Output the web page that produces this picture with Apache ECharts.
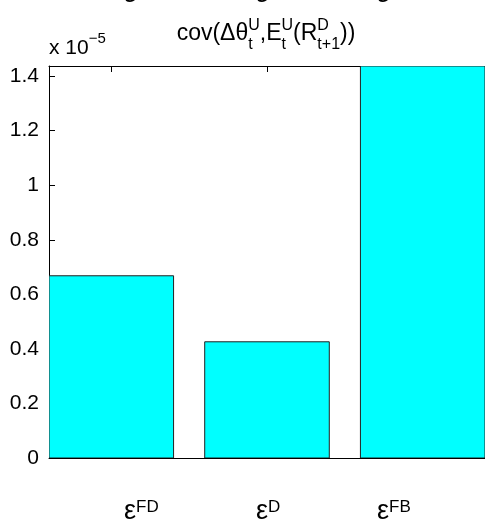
<!DOCTYPE html>
<html>
<head>
<meta charset="utf-8">
<script src="https://cdn.jsdelivr.net/npm/echarts@6/dist/echarts.min.js"></script>
<style>
  html, body { margin: 0; padding: 0; background: #fff; }
  #chart { width: 485px; height: 523px; }
</style>
</head>
<body>
<div id="chart"></div>
<script>
// Bar positions (x) and covariance values, in units of 1e-5
const positions = [1, 2, 3];
const categories = ['FD', 'D', 'FB'];
const values = [0.668, 0.426, 1.437];
const yTicks = [0, 0.2, 0.4, 0.6, 0.8, 1.0, 1.2, 1.4];
const yMax = 1.437;
const xMin = 0.6, xMax = 3.4;
const barHalfWidth = 0.4;

const FONT = '"Liberation Sans", Arial, Helvetica, sans-serif';
const BLACK = '#000';
// distance from the top of a text box to its alphabetic baseline, in em
const BASELINE_EM = 0.84;

// Text width helper, so pieces of math text can be placed next to each other
const measureCtx = document.createElement('canvas').getContext('2d');
function textWidth(str, size) {
  measureCtx.font = size + 'px ' + FONT;
  return measureCtx.measureText(str).width;
}

function textAt(str, x, baseline, size) {
  return { type: 'text', x: x, y: baseline - BASELINE_EM * size, silent: true,
    style: { text: str, font: size + 'px ' + FONT, fill: BLACK, verticalAlign: 'top' } };
}

// Lays out math-like text: plain runs plus stacked superscript/subscript pairs
function mathText(pieces, x, baseline, opts) {
  const main = opts.main, small = opts.small;
  const out = [];
  const widths = pieces.map(p => p.t !== undefined
    ? textWidth(p.t, main)
    : Math.max(p.sup ? textWidth(p.sup, small) : 0, p.sub ? textWidth(p.sub, small) : 0));
  const total = widths.reduce((a, b) => a + b, 0);
  let cx = opts.align === 'center' ? x - total / 2 : x;
  pieces.forEach((p, i) => {
    if (p.t !== undefined) {
      out.push(textAt(p.t, cx, baseline, main));
    } else {
      if (p.sup) out.push(textAt(p.sup, cx, baseline - opts.supRise, small));
      if (p.sub) out.push(textAt(p.sub, cx, baseline + opts.subDrop, small));
    }
    cx += widths[i];
  });
  return out;
}

const chart = echarts.init(document.getElementById('chart'), null, { renderer: 'canvas' });

const grid = { left: 49, right: -1, top: 66, bottom: 65 };

// Category labels under the bars, and the tail of the same labels from the panel above
const labelX = [124, 256, 377];
const labelGraphics = [];
categories.forEach((c, i) => {
  const opts = { main: 27, small: 17, supRise: 8, subDrop: 0 };
  labelGraphics.push(...mathText([{ t: 'ε' }, { sup: c }], labelX[i], 521, opts));
  labelGraphics.push(...mathText([{ t: 'ε' }, { sup: c }], labelX[i], 4, opts));
});

const titleGraphics = mathText([
  { t: 'cov(Δθ' }, { sup: 'U', sub: 't' },
  { t: ',E' }, { sup: 'U', sub: 't' },
  { t: '(R' }, { sup: 'D', sub: 't+1' },
  { t: '))' }
], 266, 41, { main: 23, small: 16, supRise: 10, subDrop: 9, align: 'center' });

const exponentGraphics = mathText([{ t: 'x 10' }, { sup: '−5' }], 49, 55,
  { main: 21, small: 15, supRise: 11, subDrop: 0 });

chart.setOption({
  animation: false,
  backgroundColor: '#fff',
  grid: grid,
  xAxis: [{
    type: 'value', position: 'bottom', min: xMin, max: xMax,
    axisLine: { show: true, onZero: false, lineStyle: { color: BLACK, width: 1 } },
    axisTick: { show: true, inside: true, length: 6, customValues: positions, lineStyle: { color: BLACK } },
    axisLabel: { show: false },
    splitLine: { show: false }
  }, {
    type: 'value', position: 'top', min: xMin, max: xMax,
    axisLine: { show: true, onZero: false, lineStyle: { color: BLACK, width: 1 } },
    axisTick: { show: true, inside: true, length: 6, customValues: positions, lineStyle: { color: BLACK } },
    axisLabel: { show: false },
    splitLine: { show: false }
  }],
  yAxis: [{
    type: 'value', position: 'left', min: 0, max: yMax,
    axisLine: { show: true, onZero: false, lineStyle: { color: BLACK, width: 1 } },
    axisTick: { show: true, inside: true, length: 6, customValues: yTicks, lineStyle: { color: BLACK } },
    axisLabel: {
      show: true, customValues: yTicks, margin: 10,
      fontFamily: FONT, fontSize: 21, color: BLACK,
      formatter: v => String(Number(v.toFixed(1)))
    },
    splitLine: { show: false }
  }],
  series: [{
    type: 'custom',
    xAxisIndex: 0, yAxisIndex: 0,
    clip: true,
    data: positions.map((p, i) => [p, values[i]]),
    renderItem: function (params, api) {
      const x = api.value(0), v = api.value(1);
      const topLeft = api.coord([x - barHalfWidth, v]);
      const bottomRight = api.coord([x + barHalfWidth, 0]);
      const rect = echarts.graphic.clipRectByRect({
        x: topLeft[0], y: topLeft[1],
        width: bottomRight[0] - topLeft[0], height: bottomRight[1] - topLeft[1]
      }, {
        x: params.coordSys.x, y: params.coordSys.y,
        width: params.coordSys.width + 2, height: params.coordSys.height
      });
      return rect && {
        type: 'rect',
        shape: rect,
        style: { fill: '#00FFFF', stroke: '#222', lineWidth: 1 }
      };
    }
  }],
  graphic: [...titleGraphics, ...exponentGraphics, ...labelGraphics]
});
</script>
</body>
</html>
